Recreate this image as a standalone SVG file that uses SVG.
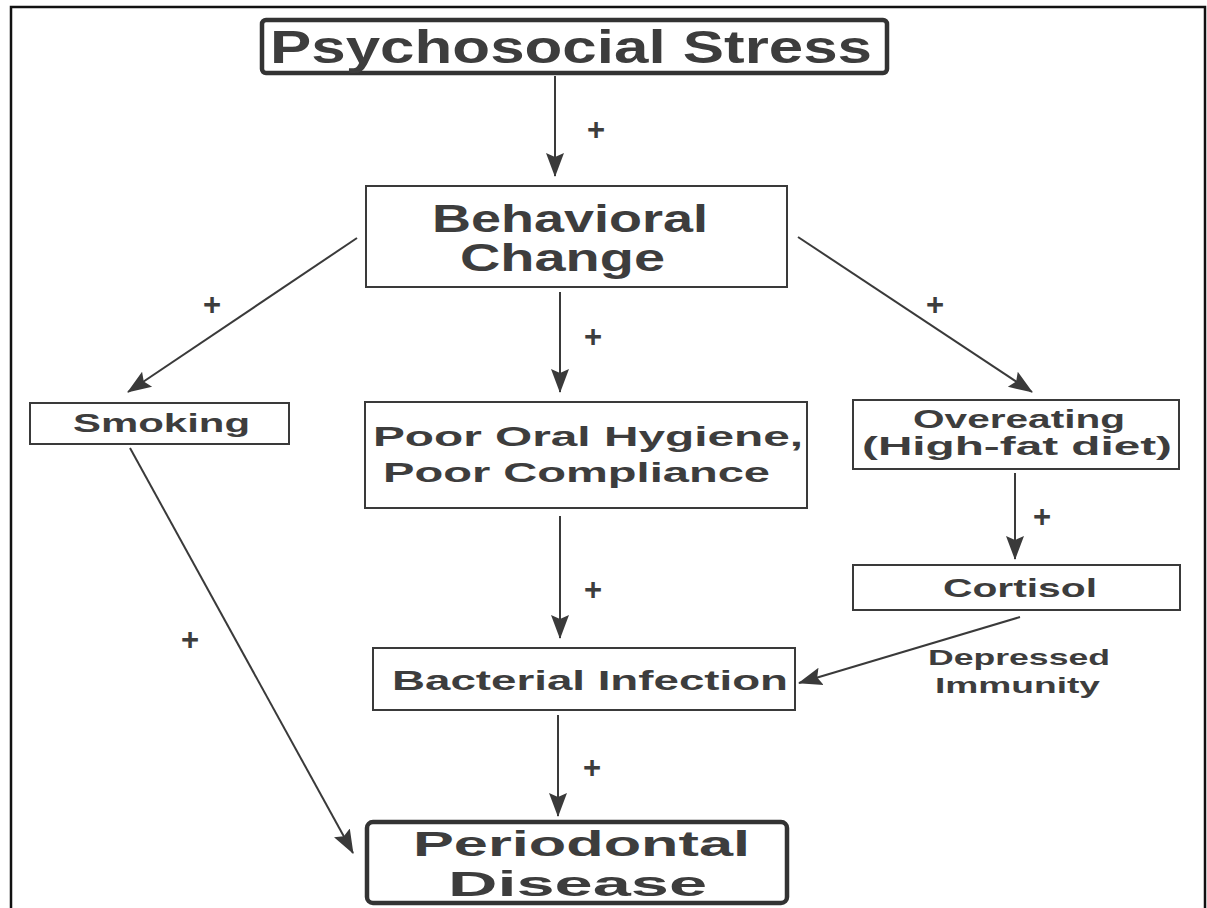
<svg xmlns="http://www.w3.org/2000/svg" width="1207" height="908" viewBox="0 0 1207 908">
  <style>
    .frame { fill: none; stroke: #111; stroke-width: 2.5; }
    .box { fill: none; stroke: #3a3a3a; stroke-width: 2; }
    .box-heavy { fill: none; stroke: #333; stroke-width: 4.5; }
    .lbl { font-family: "Liberation Sans", Arial, sans-serif; font-weight: bold; fill: #3d3d3d; text-anchor: start; }
    .plus { font-family: "Liberation Sans", Arial, sans-serif; font-weight: bold; fill: #3d3d3d; font-size: 31px; text-anchor: middle; }
    .edge { fill: none; stroke: #3a3a3a; stroke-width: 2; marker-end: url(#head); }
  </style>
  <defs>
    <marker id="head" markerUnits="userSpaceOnUse" markerWidth="24" markerHeight="20" viewBox="0 0 24 20" refX="23" refY="10" orient="auto">
      <path d="M0,1 L24,10 L0,19 L4,10 Z" fill="#3a3a3a"/>
    </marker>
  </defs>

  <rect width="1207" height="908" fill="#fff"/>
  <!-- page frame -->
  <path class="frame" d="M11,908 V7 H1205 V908"/>

  <g id="connectors">
    <line class="edge" x1="555" y1="76" x2="555" y2="176"/>
    <line class="edge" x1="357" y1="238" x2="128" y2="392"/>
    <line class="edge" x1="560" y1="292" x2="560" y2="392"/>
    <line class="edge" x1="798" y1="237" x2="1032" y2="392"/>
    <line class="edge" x1="1015" y1="473" x2="1015" y2="559"/>
    <line class="edge" x1="560" y1="516" x2="560" y2="638"/>
    <line class="edge" x1="1020" y1="617" x2="799" y2="683"/>
    <line class="edge" x1="558" y1="715" x2="558" y2="816"/>
    <line class="edge" x1="130" y1="448" x2="353" y2="853"/>
    <text class="plus" x="596" y="140">+</text>
    <text class="plus" x="212" y="315">+</text>
    <text class="plus" x="593" y="347">+</text>
    <text class="plus" x="935" y="315">+</text>
    <text class="plus" x="1042" y="527">+</text>
    <text class="plus" x="593" y="600">+</text>
    <text class="plus" x="190" y="650">+</text>
    <text class="plus" x="592" y="778">+</text>
    <text class="lbl" x="928" y="665" font-size="22" textLength="182" lengthAdjust="spacingAndGlyphs">Depressed</text>
    <text class="lbl" x="935" y="693" font-size="22" textLength="165" lengthAdjust="spacingAndGlyphs">Immunity</text>
  </g>

  <g id="psychosocial-stress">
    <rect class="box-heavy" x="262" y="20" width="625" height="53" rx="4"/>
    <text class="lbl" x="270" y="63" font-size="47" textLength="602" lengthAdjust="spacingAndGlyphs">Psychosocial Stress</text>
  </g>

  <g id="behavioral-change">
    <rect class="box" x="366" y="186" width="421" height="101"/>
    <text class="lbl" x="432" y="232" font-size="39" textLength="276" lengthAdjust="spacingAndGlyphs">Behavioral</text>
    <text class="lbl" x="460" y="271" font-size="39" textLength="205" lengthAdjust="spacingAndGlyphs">Change</text>
  </g>

  <g id="smoking">
    <rect class="box" x="30" y="403" width="259" height="41"/>
    <text class="lbl" x="73" y="432" font-size="25" textLength="177" lengthAdjust="spacingAndGlyphs">Smoking</text>
  </g>

  <g id="poor-oral-hygiene">
    <rect class="box" x="365" y="402" width="442" height="106"/>
    <text class="lbl" x="373" y="446" font-size="28" textLength="430" lengthAdjust="spacingAndGlyphs">Poor Oral Hygiene,</text>
    <text class="lbl" x="383" y="482" font-size="28" textLength="387" lengthAdjust="spacingAndGlyphs">Poor Compliance</text>
  </g>

  <g id="overeating">
    <rect class="box" x="853" y="400" width="326" height="69"/>
    <text class="lbl" x="913" y="428" font-size="25" textLength="212" lengthAdjust="spacingAndGlyphs">Overeating</text>
    <text class="lbl" x="862" y="455" font-size="25" textLength="310" lengthAdjust="spacingAndGlyphs">(High-fat diet)</text>
  </g>

  <g id="cortisol">
    <rect class="box" x="853" y="565" width="327" height="45"/>
    <text class="lbl" x="943" y="597" font-size="25" textLength="154" lengthAdjust="spacingAndGlyphs">Cortisol</text>
  </g>

  <g id="bacterial-infection">
    <rect class="box" x="373" y="648" width="422" height="62"/>
    <text class="lbl" x="392" y="690" font-size="28" textLength="396" lengthAdjust="spacingAndGlyphs">Bacterial Infection</text>
  </g>

  <g id="periodontal-disease">
    <rect class="box-heavy" x="367" y="822" width="420" height="81" rx="6"/>
    <text class="lbl" x="413" y="856" font-size="35" textLength="337" lengthAdjust="spacingAndGlyphs">Periodontal</text>
    <text class="lbl" x="448" y="896" font-size="35" textLength="259" lengthAdjust="spacingAndGlyphs">Disease</text>
  </g>
</svg>
